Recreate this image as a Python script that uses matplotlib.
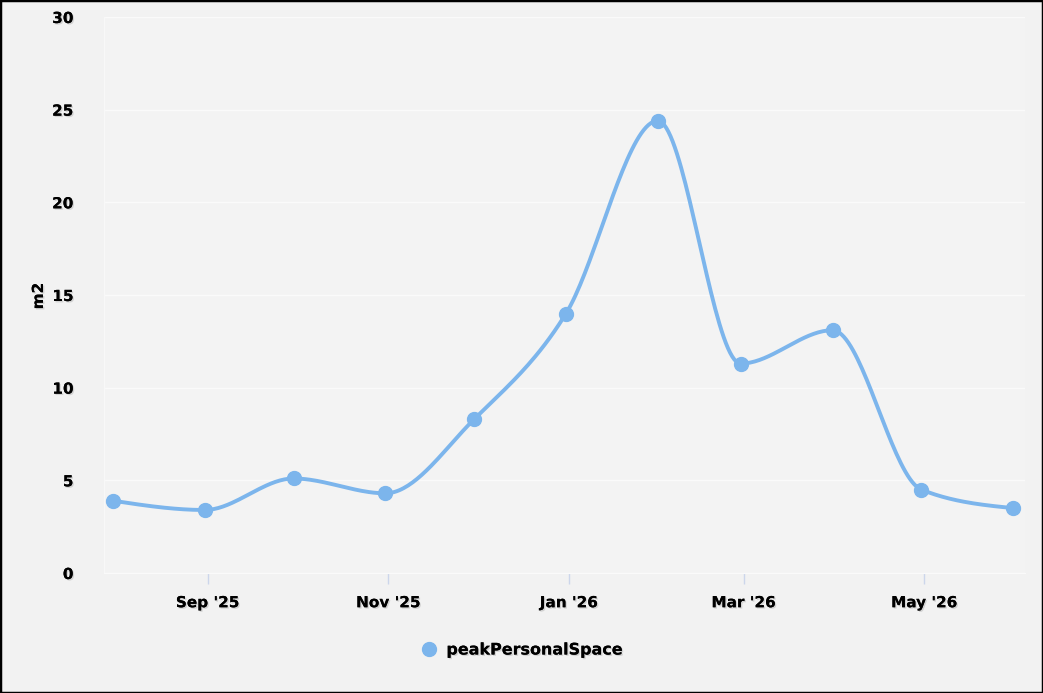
import numpy as np
import pandas as pd
import matplotlib
matplotlib.use("Agg")
import matplotlib.pyplot as plt
import matplotlib.dates as mdates
from matplotlib.lines import Line2D
import matplotlib.patheffects as pe

dates = ["2025-07-31", "2025-08-31", "2025-09-30", "2025-10-31", "2025-11-30",
         "2025-12-31", "2026-01-31", "2026-02-28", "2026-03-31", "2026-04-30", "2026-05-31"]
values = [3.9, 3.4, 5.1, 4.3, 8.3, 14.0, 24.4, 11.3, 13.1, 4.5, 3.5]
series_name = "peakPersonalSpace"
y_label = "m2"
y_ticks = [0, 5, 10, 15, 20, 25, 30]

COLOR = "#7cb5ec"
BG = "#f2f2f2"

plt.rcParams['font.family'] = ['DejaVu Sans']

x = mdates.date2num(pd.to_datetime(dates))
y = np.array(values, dtype=float)


def monotone_x(xs, ys, n=40):
    h = np.diff(xs)
    s = np.diff(ys) / h
    m = np.zeros_like(ys)
    for i in range(1, len(ys) - 1):
        if s[i - 1] * s[i] <= 0:
            m[i] = 0
        else:
            p = (s[i - 1] * h[i] + s[i] * h[i - 1]) / (h[i - 1] + h[i])
            m[i] = np.sign(s[i - 1]) * min(abs(s[i - 1]), abs(s[i]), 0.5 * abs(p)) * 2
            if abs(p) < abs(m[i]):
                m[i] = np.sign(m[i]) * abs(p)
    m[0] = (3 * s[0] - m[1]) / 2
    m[-1] = (3 * s[-1] - m[-2]) / 2
    xo, yo = [], []
    for i in range(len(xs) - 1):
        t = np.linspace(0, 1, n)
        h00 = 2 * t**3 - 3 * t**2 + 1
        h10 = t**3 - 2 * t**2 + t
        h01 = -2 * t**3 + 3 * t**2
        h11 = t**3 - t**2
        xo.append(xs[i] + t * h[i])
        yo.append(h00 * ys[i] + h10 * h[i] * m[i] + h01 * ys[i + 1] + h11 * h[i] * m[i + 1])
    return np.concatenate(xo), np.concatenate(yo)


fig = plt.figure(figsize=(10.43, 6.93), dpi=100, facecolor=BG)
ax = fig.add_axes([104 / 1043, 1 - 573 / 693, (1025 - 104) / 1043, (573 - 17) / 693])
ax.set_facecolor("#f3f3f3")

xs, ys = monotone_x(x, y)
ax.plot(xs, ys, color=COLOR, lw=2.8, solid_capstyle="round", zorder=3)
ax.plot(x, y, "o", color=COLOR, ms=10, zorder=4, mec=COLOR)

ax.set_ylim(0, 30)
ax.set_yticks(y_ticks)
ax.set_xlim(mdates.date2num(pd.Timestamp("2025-07-28")), mdates.date2num(pd.Timestamp("2026-06-04")))
tick_dates = pd.to_datetime(["2025-09-01", "2025-11-01", "2026-01-01", "2026-03-01", "2026-05-01"])
ax.set_xticks(mdates.date2num(tick_dates))
ax.set_xticklabels([d.strftime("%b '%y") for d in tick_dates])

ax.grid(axis="y", color="#fafafa", lw=1)
ax.set_axisbelow(True)
for sp in ax.spines.values():
    sp.set_visible(False)
ax.spines["bottom"].set_visible(True)
ax.spines["bottom"].set_color("#fafafa")
ax.spines["left"].set_visible(True)
ax.spines["left"].set_color("#f8f8f8")

shadow = [pe.withSimplePatchShadow(offset=(1, -1), shadow_rgbFace="#999999", alpha=0.35), pe.Normal()]
ax.tick_params(axis="y", length=0, pad=22, labelsize=11)
ax.tick_params(axis="x", length=8, color="#ccd6eb", width=1, pad=8, labelsize=11)
for lab in ax.get_yticklabels() + ax.get_xticklabels():
    lab.set_fontweight("bold")
    lab.set_path_effects(shadow)

ax.set_ylabel(y_label, fontsize=11, fontweight="bold", path_effects=shadow)
ax.yaxis.set_label_coords(-58 / 921, (573 - 296) / 556)

handle = Line2D([], [], marker="o", color=COLOR, ls="none", ms=10)
leg = fig.legend([handle], [series_name], loc="center", bbox_to_anchor=(518 / 1043, 1 - 650 / 693),
                 frameon=False, handletextpad=0.1, prop={"weight": "bold", "size": 11.5})
for t in leg.get_texts():
    t.set_path_effects(shadow)

border = plt.Rectangle((0, 0), 1, 1, transform=fig.transFigure, fill=False, ec="black", lw=2.5)
fig.patches.append(border)

fig.savefig("out.png", dpi=100, facecolor=BG)
